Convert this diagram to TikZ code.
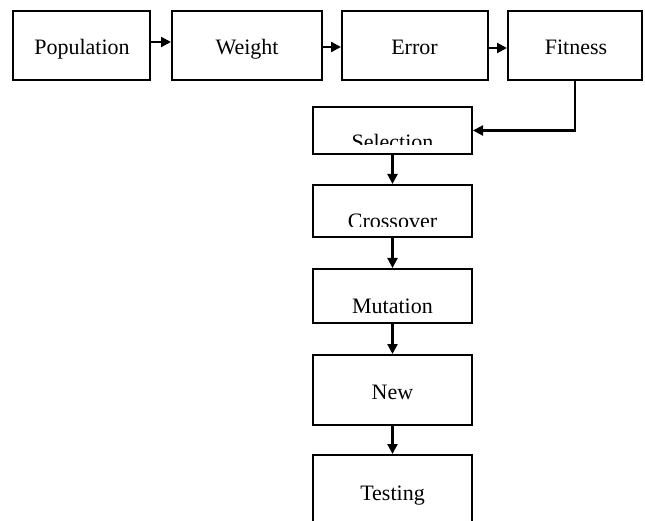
\documentclass[tikz,border=0pt]{standalone}
\usepackage{fontspec}
\setmainfont{Liberation Serif}
\usetikzlibrary{arrows.meta}
\begin{document}
\begin{tikzpicture}[x=1pt,y=-1pt,
  box/.style={draw,line width=2pt,rectangle,inner sep=0pt},
  lbl/.style={anchor=base,inner sep=0pt,font=\fontsize{22}{26}\selectfont},
  arr/.style={line width=2.2pt,-{Triangle[length=10pt,width=10pt]}}]
\clip (0,0) rectangle (645,521);
\useasboundingbox (0,0) rectangle (645,521);
% top row
\node[box,minimum width=137pt,minimum height=69pt] (pop) at (81.5,45.5) {};
\node[box,minimum width=150pt,minimum height=69pt] (wt) at (247,45.5) {};
\node[box,minimum width=146pt,minimum height=69pt] (err) at (415,45.5) {};
\node[box,minimum width=134pt,minimum height=69pt] (fit) at (575,45.5) {};
\node[lbl] (tpop) at (82,55) {Population};
\node[lbl] (twt) at (247,55) {Weight};
\node[lbl] (terr) at (414.5,55) {Error};
\node[lbl] (tfit) at (576,55) {Fitness};
% column
\node[box,minimum width=159pt,minimum height=47pt] (sel) at (392.5,130.5) {};
\node[box,minimum width=159pt,minimum height=52pt] (cro) at (392.5,211) {};
\node[box,minimum width=159pt,minimum height=54pt] (mut) at (392.5,296) {};
\node[box,minimum width=159pt,minimum height=70pt] (new) at (392.5,390) {};
\node[box,minimum width=159pt,minimum height=85pt] (tst) at (392.5,497.5) {};
\begin{scope}
\clip (313,107) rectangle (472,145);
\node[lbl] (tsel) at (392.5,150) {Selection};
\end{scope}
\begin{scope}
\clip (313,185) rectangle (472,226.5);
\node[lbl] (tcro) at (392.5,229) {Crossover};
\end{scope}
\node[lbl] (tmut) at (392.5,313) {Mutation};
\node[lbl] (tnew) at (392.5,399) {New};
\node[lbl] (ttst) at (392.5,500) {Testing};
% connectors
\draw[arr] (pop.east |- 0,42) -- (wt.west |- 0,42);
\draw[arr] (wt.east |- 0,47) -- (err.west |- 0,47);
\draw[arr] (err.east |- 0,48) -- (fit.west |- 0,48);
\draw[arr] (fit.south) |- (sel.east);
\draw[arr] (sel.south) -- (cro.north);
\draw[arr] (cro.south) -- (mut.north);
\draw[arr] (mut.south) -- (new.north);
\draw[arr] (new.south) -- (tst.north);
\end{tikzpicture}
\end{document}
